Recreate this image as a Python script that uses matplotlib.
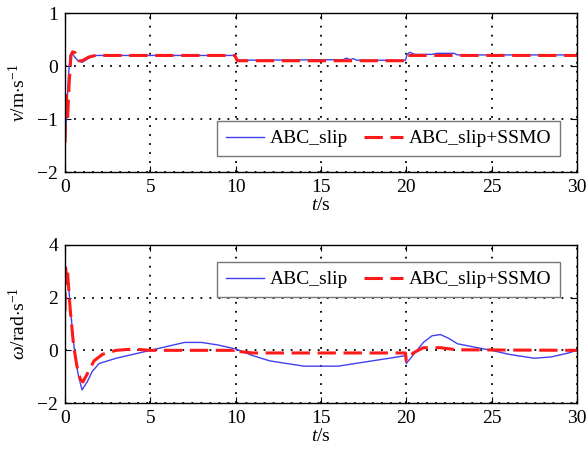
import matplotlib
matplotlib.use("Agg")
import matplotlib.pyplot as plt

plt.rcParams['font.family'] = 'Liberation Serif'
plt.rcParams['mathtext.fontset'] = 'custom'
plt.rcParams['mathtext.rm'] = 'Liberation Serif'
plt.rcParams['mathtext.it'] = 'Liberation Serif:italic'

# linear velocity v (m/s)
t_v_abc = [0, 0.1, 0.2, 0.3, 0.4, 0.5, 0.7, 1.0, 1.3, 1.7, 2.0, 9.95, 10.05, 10.3,
           16.3, 16.5, 16.7, 16.9, 17.1, 19.95, 20.05, 20.2, 20.5, 21.5, 21.8, 22.8, 23.0, 30]
v_abc = [-1.5, -0.9, -0.2, 0.2, 0.25, 0.2, 0.12, 0.07, 0.13, 0.2, 0.2, 0.2, 0.12, 0.11,
         0.12, 0.15, 0.12, 0.14, 0.11, 0.11, 0.22, 0.26, 0.22, 0.22, 0.24, 0.24, 0.21, 0.21]
t_v_ssmo = [0, 0.08, 0.15, 0.25, 0.35, 0.45, 0.6, 0.8, 1.0, 1.4, 1.8, 9.95, 10.1,
            19.95, 20.1, 30]
v_ssmo = [-1.45, -0.5, -1.0, -0.3, 0.2, 0.27, 0.25, 0.1, 0.1, 0.17, 0.2, 0.2, 0.1,
          0.1, 0.2, 0.2]

# angular velocity omega (rad/s)
t_w_abc = [0, 0.1, 0.2, 0.4, 0.6, 0.8, 1.0, 1.3, 1.6, 2.0, 2.5, 3.0, 4.0, 5.0, 6.0, 7.0,
           8.0, 9.0, 10.0, 11.0, 12.0, 13.0, 14.0, 16.0, 17.0, 18.0, 19.0, 19.95, 20.0,
           20.5, 21.0, 21.5, 22.0, 22.5, 23.0, 24.0, 25.0, 26.0, 27.0, 27.5, 28.5, 29.5, 30]
w_abc = [3.3, 2.9, 2.5, 1.0, -0.3, -1.0, -1.5, -1.2, -0.8, -0.5, -0.4, -0.3, -0.15, 0.0,
         0.15, 0.3, 0.3, 0.2, 0.05, -0.2, -0.4, -0.5, -0.6, -0.6, -0.5, -0.4, -0.3, -0.2,
         -0.5, -0.1, 0.3, 0.55, 0.6, 0.45, 0.25, 0.12, 0.0, -0.15, -0.25, -0.3, -0.25,
         -0.1, 0.0]
t_w_ssmo = [0, 0.03, 0.1, 0.15, 0.3, 0.5, 0.7, 0.9, 1.05, 1.3, 1.7, 2.2, 3.0, 4.0, 5.0,
            9.9, 10.0, 10.3, 11.0, 19.95, 20.0, 20.4, 21.0, 22.0, 23.0, 30]
w_ssmo = [1.5, 3.3, 2.6, 3.0, 1.6, 0.2, -0.6, -1.1, -1.2, -0.9, -0.4, -0.15, 0.0, 0.05,
          0.0, 0.0, 0.08, -0.05, -0.1, -0.1, -0.4, -0.1, 0.1, 0.1, 0.02, 0.0]

x_ticks = [0, 5, 10, 15, 20, 25, 30]
labels = ['ABC_slip', 'ABC_slip+SSMO']

fig = plt.figure(figsize=(5.87, 4.49), dpi=100)
ax1 = fig.add_axes([0.1107, 0.6169, 0.8722, 0.354])
ax2 = fig.add_axes([0.1107, 0.1024, 0.8722, 0.352])

leg_kw = dict(ncol=2, fontsize=14, fancybox=False, edgecolor='#777777', framealpha=1,
              handlelength=2.0, columnspacing=0.8, handletextpad=0.3, borderpad=0.45,
              borderaxespad=0)


def style(ax, yticks, ylim):
    ax.set_xlim(0, 30)
    ax.set_ylim(*ylim)
    ax.set_xticks(x_ticks)
    ax.set_yticks(yticks)
    ax.grid(True, linestyle=(0, (1, 4)), color='black', linewidth=1.3)
    ax.tick_params(direction='in', top=True, right=True, labelsize=14, length=4,
                   pad=5)
    for s in ax.spines.values():
        s.set_linewidth(1.0)
    ax.set_xlabel('$t$/s', fontsize=14, labelpad=1)


ax1.plot(t_v_abc, v_abc, color='#4040f0', linewidth=1.0, label=labels[0])
ax1.plot(t_v_ssmo, v_ssmo, color='#ff1a1a', linewidth=2.2, dashes=(6, 2.5), label=labels[1])
style(ax1, [-2, -1, 0, 1], (-2, 1))
ax1.set_ylabel(r'$v$/m$\cdot$s$^{-1}$', fontsize=14, labelpad=6)
ax1.legend(loc='lower right', bbox_to_anchor=(0.967, 0.10), **leg_kw)

ax2.plot(t_w_abc, w_abc, color='#4040f0', linewidth=1.0, label=labels[0])
ax2.plot(t_w_ssmo, w_ssmo, color='#ff1a1a', linewidth=2.2, dashes=(6, 2.5), label=labels[1])
style(ax2, [-2, 0, 2, 4], (-2, 4))
ax2.set_ylabel(r'$\omega$/rad$\cdot$s$^{-1}$', fontsize=14, labelpad=6)
ax2.legend(loc='upper right', bbox_to_anchor=(0.967, 0.892), **leg_kw)

fig.savefig('out.png', dpi=100)
